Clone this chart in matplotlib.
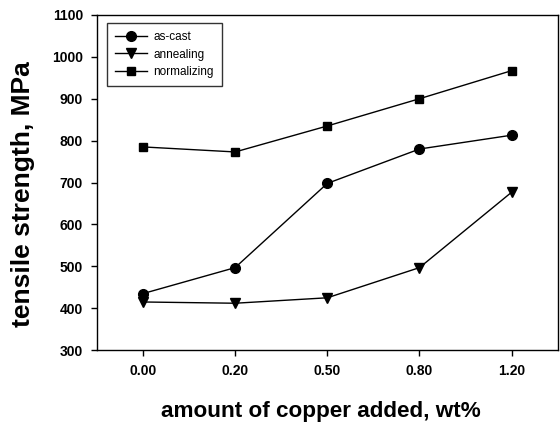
import numpy as np
import matplotlib.pyplot as plt

plt.rcParams['font.family'] = ['Liberation Sans', 'DejaVu Sans']

copper = ['0.00', '0.20', '0.50', '0.80', '1.20']
as_cast = [435, 497, 698, 780, 813]
annealing = [415, 412, 425, 497, 677]
normalizing = [785, 773, 835, 900, 967]

fig = plt.figure(figsize=(5.6, 4.26), dpi=100)
ax = fig.add_axes([0.173, 0.178, 0.823, 0.787])

x = np.arange(len(copper))
ax.plot(x, as_cast, '-o', color='black', lw=1, ms=7, label='as-cast')
ax.plot(x, annealing, '-v', color='black', lw=1, ms=7, label='annealing')
ax.plot(x, normalizing, '-s', color='black', lw=1, ms=6, label='normalizing')

ax.set_xlim(-0.5, 4.5)
ax.set_ylim(300, 1100)
ax.set_xticks(x)
ax.set_xticklabels(copper)
ax.set_yticks(np.arange(300, 1101, 100))
ax.tick_params(direction='out', length=4, width=1, labelsize=10, pad=6)
for lab in ax.get_xticklabels() + ax.get_yticklabels():
    lab.set_fontweight('bold')

for sp in ax.spines.values():
    sp.set_linewidth(1)

ax.set_xlabel('amount of copper added, wt%', fontsize=16.2, fontweight='bold')
ax.set_ylabel('tensile strength, MPa', fontsize=19, fontweight='bold')
ax.xaxis.set_label_coords(0.487, -0.153)
ax.yaxis.set_label_coords(-0.134, 0.466)

leg = ax.legend(loc='upper left', fontsize=8.5, frameon=True, fancybox=False,
                edgecolor='black', handlelength=2.7, handletextpad=0.5,
                borderpad=0.7, labelspacing=0.45, borderaxespad=0,
                bbox_to_anchor=(0.022, 0.976))
leg.get_frame().set_linewidth(1)

fig.savefig('out.png', dpi=100)
